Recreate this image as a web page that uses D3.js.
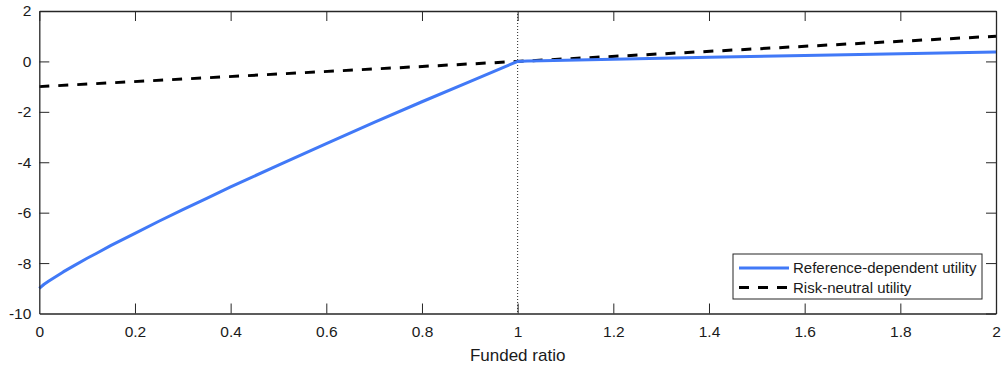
<!DOCTYPE html>
<html><head><meta charset="utf-8">
<script src="https://cdn.jsdelivr.net/npm/d3@7"></script>
<style>body{margin:0;background:#fff}svg{display:block}text{font-family:"Liberation Sans",Arial,Helvetica,sans-serif;fill:#1a1a1a}</style>
</head><body>
<svg id="c" width="1001" height="366"></svg>
<script>
// Data
const refX = [0, 0.01, 0.02, 0.03, 0.05, 0.07, 0.1, 0.12, 0.15, 0.2, 0.25, 0.3, 0.35, 0.4, 0.5, 0.6, 0.7, 0.8, 0.9, 1.0, 1.02, 1.05, 1.1, 1.2, 1.4, 1.6, 1.8, 2.0];
const refY = [-9.0, -8.84, -8.71, -8.59, -8.35, -8.13, -7.81, -7.61, -7.30, -6.82, -6.34, -5.88, -5.43, -4.98, -4.11, -3.26, -2.42, -1.60, -0.80, 0.0, 0.012, 0.026, 0.049, 0.09, 0.166, 0.236, 0.304, 0.37];
const rnX = [0, 2];
const rnY = [-1, 1];
const xTicks = [0, 0.2, 0.4, 0.6, 0.8, 1, 1.2, 1.4, 1.6, 1.8, 2];
const yTicks = [-10, -8, -6, -4, -2, 0, 2];
const seriesNames = ["Reference-dependent utility", "Risk-neutral utility"];
const xLabel = "Funded ratio";

const svg = d3.select("#c");
const L = 39.3, R = 996, T = 11, B = 313.5;
const x = d3.scaleLinear().domain([0, 2]).range([L, R]);
const y = d3.scaleLinear().domain([-10, 2]).range([B, T]);
const axisCol = "#262626";
const tickLen = 10;

const g = svg.append("g");
// reference vertical line
g.append("line").attr("x1", x(1)).attr("x2", x(1)).attr("y1", T).attr("y2", B)
  .attr("stroke", "#222").attr("stroke-width", 1).attr("stroke-dasharray", "1,2");

const line = d3.line().x(d => x(d[0])).y(d => y(d[1]));
g.append("path").datum(rnX.map((v, i) => [v, rnY[i]])).attr("d", line)
  .attr("fill", "none").attr("stroke", "#000").attr("stroke-width", 3).attr("stroke-dasharray", "10,9");
g.append("path").datum(refX.map((v, i) => [v, refY[i]])).attr("d", line)
  .attr("fill", "none").attr("stroke", "#4179f7").attr("stroke-width", 3).attr("stroke-linejoin", "round");

// axes
const fmt = d => String(d);
const xb = svg.append("g").attr("transform", `translate(0,${B})`)
  .call(d3.axisBottom(x).tickValues(xTicks).tickFormat(fmt).tickSizeInner(-tickLen).tickSizeOuter(0).tickPadding(12));
const xt = svg.append("g").attr("transform", `translate(0,${T})`)
  .call(d3.axisTop(x).tickValues(xTicks).tickFormat("").tickSizeInner(-tickLen).tickSizeOuter(0));
const yl = svg.append("g").attr("transform", `translate(${L},0)`)
  .call(d3.axisLeft(y).tickValues(yTicks).tickFormat(fmt).tickSizeInner(-tickLen).tickSizeOuter(0).tickPadding(8));
const yr = svg.append("g").attr("transform", `translate(${R},0)`)
  .call(d3.axisRight(y).tickValues(yTicks).tickFormat("").tickSizeInner(-tickLen).tickSizeOuter(0));
[xb, xt, yl, yr].forEach(a => {
  a.select(".domain").attr("stroke", axisCol).attr("stroke-width", 1.3);
  a.selectAll(".tick line").attr("stroke", axisCol).attr("stroke-width", 1);
  a.selectAll(".tick text").attr("font-size", 15.5).attr("fill", "#1a1a1a")
    .attr("font-family", '"Liberation Sans",Arial,sans-serif');
});
xb.selectAll(".tick").filter(d => d === 0).select("line").remove();
yl.selectAll(".tick").filter(d => d === -10 || d === 2).select("line").remove();

svg.append("text").attr("x", (L + R) / 2).attr("y", 361).attr("text-anchor", "middle")
  .attr("font-size", 17).text(xLabel);

// legend
const lg = svg.append("g");
const lx = 733, ly = 254, lw = 249, lh = 45;
lg.append("rect").attr("x", lx).attr("y", ly).attr("width", lw).attr("height", lh)
  .attr("fill", "#fff").attr("stroke", axisCol).attr("stroke-width", 1);
const styles = [{c: "#4179f7", d: null}, {c: "#000", d: "10,9"}];
seriesNames.forEach((n, i) => {
  const yy = ly + 14 + i * 19.5;
  lg.append("line").attr("x1", lx + 6).attr("x2", lx + 56).attr("y1", yy).attr("y2", yy)
    .attr("stroke", styles[i].c).attr("stroke-width", 3).attr("stroke-dasharray", styles[i].d);
  lg.append("text").attr("x", lx + 60).attr("y", yy).attr("dy", "0.35em").attr("font-size", 15).text(n);
});
</script>
</body></html>
